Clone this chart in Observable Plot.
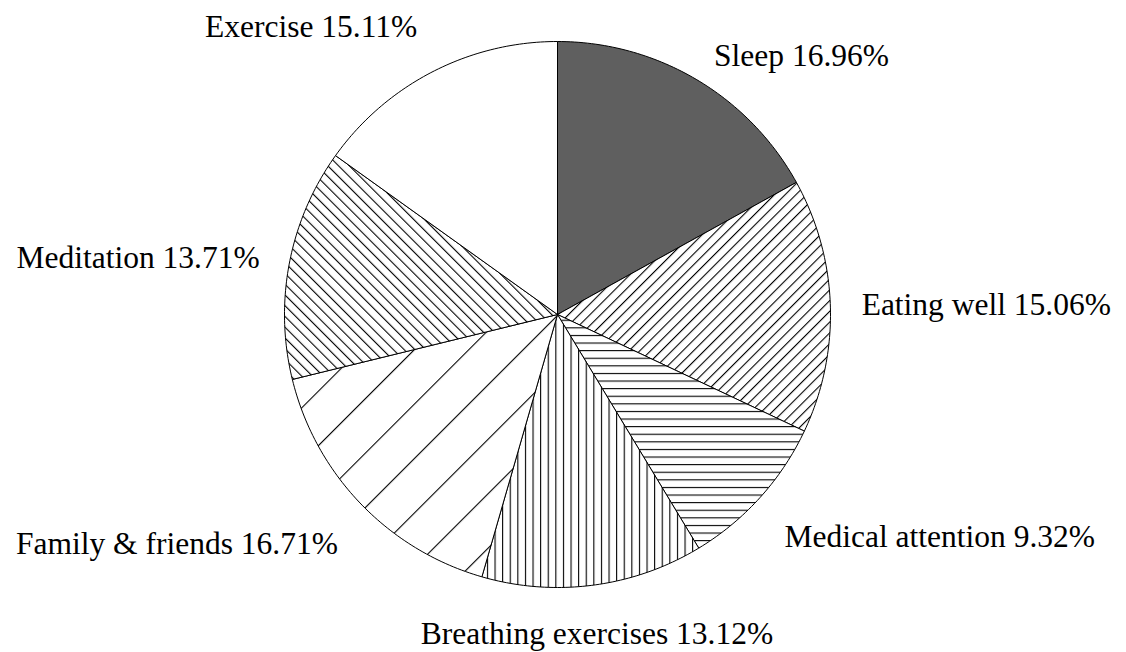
<!DOCTYPE html>
<html>
<head>
<meta charset="utf-8">
<script src="https://cdn.jsdelivr.net/npm/d3@7"></script>
<script src="https://cdn.jsdelivr.net/npm/@observablehq/plot@0.6"></script>
<style>
  html, body { margin: 0; padding: 0; background: #fff; }
  svg { display: block; }
</style>
</head>
<body>
<div id="chart"></div>
<script>
// ---- data ----
const categories = ["Sleep", "Eating well", "Medical attention", "Breathing exercises", "Family & friends", "Meditation", "Exercise"];
const values = [16.96, 15.06, 9.32, 13.12, 16.71, 13.71, 15.11];

// ---- styles (one per slice) ----
const fills = ["#5f5f5f", "url(#hatch-eat)", "url(#hatch-medical)", "url(#hatch-breath)", "url(#hatch-family)", "url(#hatch-medit)", "#ffffff"];

const total = d3.sum(values);
let cum = 0;
const slices = categories.map((name, i) => {
  const a0 = cum / total * 2 * Math.PI;
  cum += values[i];
  const a1 = cum / total * 2 * Math.PI;
  return {name, value: values[i], a0, a1, mid: (a0 + a1) / 2, fill: fills[i]};
});

// polygon points of each wedge (clockwise from 12 o'clock)
function wedgePoints(s) {
  const n = Math.max(2, Math.ceil((s.a1 - s.a0) / (2 * Math.PI) * 400));
  const pts = [{x: 0, y: 0}];
  for (let k = 0; k <= n; k++) {
    const a = s.a0 + (s.a1 - s.a0) * k / n;
    pts.push({x: Math.sin(a), y: Math.cos(a)});
  }
  pts.push({x: 0, y: 0});
  return pts;
}

// labels at 1.1 r
const labels = slices.map(s => {
  const sx = Math.sin(s.mid), cy = Math.cos(s.mid);
  return {
    text: `${s.name} ${s.value.toFixed(2)}%`,
    x: 1.1 * sx,
    y: 1.1 * cy,
    textAnchor: Math.abs(sx) < 0.2 ? "middle" : sx > 0 ? "start" : "end",
    lineAnchor: cy > 0.875 ? "bottom" : cy < -0.6 ? "top" : "middle"
  };
});

function patternDefs() {
  const defs = d3.create("svg:defs");
  const lines = (id, spacing, angle, w) => {
    const p = defs.append("pattern")
      .attr("id", id)
      .attr("patternUnits", "userSpaceOnUse")
      .attr("width", spacing)
      .attr("height", spacing)
      .attr("patternTransform", `rotate(${angle})`);
    p.append("rect").attr("width", spacing).attr("height", spacing).attr("fill", "#fff");
    p.append("rect").attr("x", 0).attr("y", 0).attr("width", w).attr("height", spacing).attr("fill", "#000");
  };
  lines("hatch-eat", 7.6, 45, 1.1);
  lines("hatch-medical", 7.6, 90, 1.1);
  lines("hatch-breath", 7.6, 0, 1.1);
  lines("hatch-family", 38.5, 45, 1.1);
  lines("hatch-medit", 7.6, -45, 1.1);
  return defs.node();
}

const textMarks = [];
for (const ta of ["start", "middle", "end"]) {
  for (const la of ["top", "middle", "bottom"]) {
    const data = labels.filter(d => d.textAnchor === ta && d.lineAnchor === la);
    if (!data.length) continue;
    textMarks.push(Plot.text(data, {
      x: "x", y: "y", text: "text",
      textAnchor: ta, lineAnchor: la,
      dx: ta === "start" ? 4 : ta === "end" ? -3 : 0,
      dy: la === "top" ? 9 : la === "bottom" ? -10 : 0,
      fontSize: 31.5,
      fontFamily: "'Liberation Serif', 'Times New Roman', serif",
      fill: "#000"
    }));
  }
}

const chart = Plot.plot({
  width: 1126,
  height: 652,
  margin: 0,
  style: {background: "#fff", overflow: "visible", fontFamily: "'Liberation Serif', serif"},
  x: {domain: [-1, 1], range: [284, 830], axis: null},
  y: {domain: [-1, 1], range: [587, 41], axis: null},
  marks: [
    patternDefs,
    ...slices.map(s => Plot.line(wedgePoints(s), {
      x: "x", y: "y",
      fill: s.fill,
      stroke: "#000",
      strokeWidth: 1,
      strokeLinejoin: "miter"
    })),
    ...textMarks
  ]
});

document.getElementById("chart").appendChild(chart);
</script>
</body>
</html>
